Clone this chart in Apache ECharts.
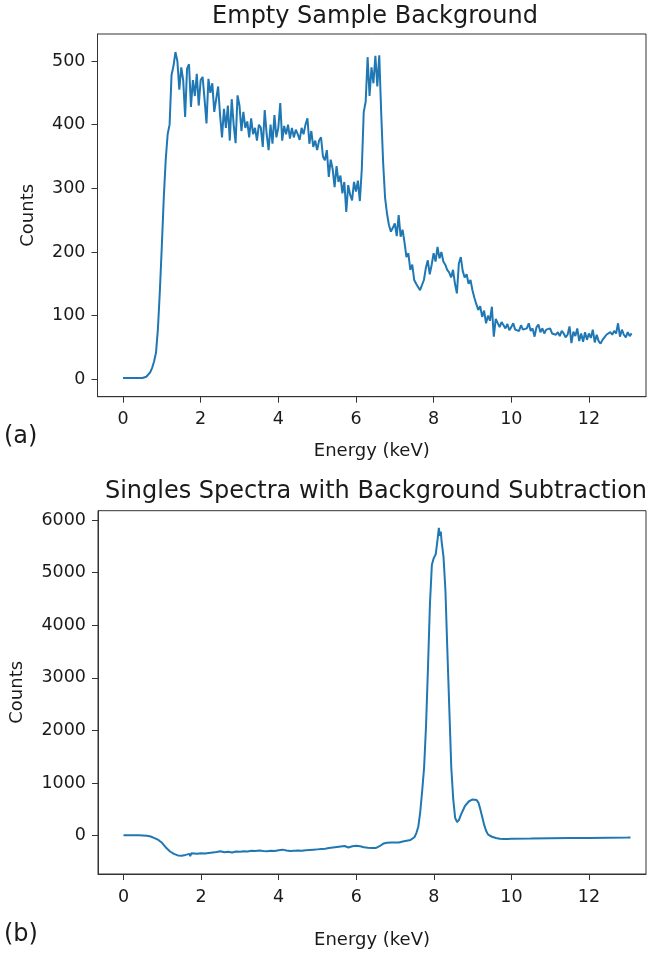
<!DOCTYPE html>
<html>
<head>
<meta charset="utf-8">
<script src="https://cdn.jsdelivr.net/npm/echarts@6/dist/echarts.min.js"></script>
<style>html,body{margin:0;padding:0;background:#fff}#c{width:654px;height:953px}</style>
</head>
<body>
<div id="c"></div>
<script>
// ---- Data ----
const titleA = 'Empty Sample Background';
const titleB = 'Singles Spectra with Background Subtraction';
const xTicks = [0, 2, 4, 6, 8, 10, 12];
const yTicksA = [0, 100, 200, 300, 400, 500];
const yTicksB = [0, 1000, 2000, 3000, 4000, 5000, 6000];

const energyA = [
0,0.05,0.1,0.15,0.2,0.25,0.3,0.35,0.4,0.45,
0.5,0.55,0.6,0.65,0.7,0.75,0.8,0.85,0.9,0.95,
1,1.05,1.1,1.15,1.2,1.25,1.3,1.35,1.4,1.45,
1.5,1.55,1.6,1.65,1.7,1.75,1.8,1.85,1.9,1.95,
2,2.05,2.1,2.15,2.2,2.25,2.3,2.35,2.4,2.45,
2.5,2.55,2.6,2.65,2.7,2.75,2.8,2.85,2.9,2.95,
3,3.05,3.1,3.15,3.2,3.25,3.3,3.35,3.4,3.45,
3.5,3.55,3.6,3.65,3.7,3.75,3.8,3.85,3.9,3.95,
4,4.05,4.1,4.15,4.2,4.25,4.3,4.35,4.4,4.45,
4.5,4.55,4.6,4.65,4.7,4.75,4.8,4.85,4.9,4.95,
5,5.05,5.1,5.15,5.2,5.25,5.3,5.35,5.4,5.45,
5.5,5.55,5.6,5.65,5.7,5.75,5.8,5.85,5.9,5.95,
6,6.05,6.1,6.15,6.2,6.25,6.3,6.35,6.4,6.45,
6.5,6.55,6.6,6.65,6.7,6.75,6.8,6.85,6.9,6.95,
7,7.05,7.1,7.15,7.2,7.25,7.3,7.35,7.4,7.45,
7.5,7.55,7.6,7.65,7.7,7.75,7.8,7.85,7.9,7.95,
8,8.05,8.1,8.15,8.2,8.25,8.3,8.35,8.4,8.45,
8.5,8.55,8.6,8.65,8.7,8.75,8.8,8.85,8.9,8.95,
9,9.05,9.1,9.15,9.2,9.25,9.3,9.35,9.4,9.45,
9.5,9.55,9.6,9.65,9.7,9.75,9.8,9.85,9.9,9.95,
10,10.05,10.1,10.15,10.2,10.25,10.3,10.35,10.4,10.45,
10.5,10.55,10.6,10.65,10.7,10.75,10.8,10.85,10.9,10.95,
11,11.05,11.1,11.15,11.2,11.25,11.3,11.35,11.4,11.45,
11.5,11.55,11.6,11.65,11.7,11.75,11.8,11.85,11.9,11.95,
12,12.05,12.1,12.15,12.2,12.25,12.3,12.35,12.4,12.45,
12.5,12.55,12.6,12.65,12.7,12.75,12.8,12.85,12.9,12.95,
13,13.05,13.1
];
const countsA = [
2,2,2,2,2,2,2,2,2,2,
2,3,4,7,11,18,28,42,80,140,
210,285,345,385,400,478,492,514,500,455,
490,470,412,488,495,428,470,445,480,430,
470,475,440,402,472,450,465,420,440,460,
415,380,425,395,430,375,440,400,371,446,
430,390,420,395,405,380,410,385,395,375,
400,395,365,423,385,360,400,370,415,380,
395,434,375,398,385,400,378,395,380,392,
385,376,395,385,400,410,370,390,365,375,
360,375,380,350,344,360,318,345,330,302,
335,310,320,292,310,263,305,290,281,310,
295,312,280,330,420,436,506,445,490,465,
508,460,509,418,340,285,260,242,232,238,
245,225,258,224,235,215,192,198,172,180,
156,150,145,140,137,156,175,187,165,180,
198,185,208,190,200,185,180,172,168,160,
172,150,135,182,192,170,160,165,150,156,
140,128,118,109,115,98,108,88,100,92,
114,67,95,93,82,90,85,80,87,77,
82,88,78,80,76,85,78,75,80,88,
76,80,67,82,86,74,80,72,78,75,
80,72,75,70,74,68,76,72,66,70,
83,57,75,68,80,60,72,59,74,62,
72,65,78,58,70,60,56,62,66,70,
68,74,70,76,72,88,67,78,70,66,
74,68,72
];

const energyB = [
0,0.1,0.2,0.3,0.4,0.5,0.6,0.7,0.8,0.9,
1,1.1,1.2,1.3,1.4,1.5,1.6,1.7,1.72,1.75,1.8,1.9,
2,2.1,2.2,2.3,2.4,2.5,2.6,2.7,2.8,2.9,
3,3.1,3.2,3.3,3.4,3.5,3.6,3.7,3.8,3.9,
4,4.1,4.15,4.2,4.3,4.4,4.5,4.6,4.7,4.8,4.9,
5,5.1,5.2,5.3,5.4,5.5,5.6,5.7,5.75,5.8,5.9,
6,6.1,6.2,6.3,6.4,6.5,6.6,6.7,6.8,6.9,
7,7.1,7.2,7.3,7.4,7.45,7.5,7.55,7.6,7.65,7.7,7.75,7.8,7.85,7.9,7.95,
8,8.05,8.1,8.13,8.15,8.18,8.2,8.25,8.3,8.35,8.4,8.45,8.5,8.55,8.6,8.65,8.7,8.8,8.9,
9,9.1,9.15,9.2,9.25,9.3,9.35,9.4,9.5,9.6,9.7,9.8,9.9,
10,10.5,11,11.5,12,12.5,13,13.07
];
const countsB = [
8,8,8,8,8,5,0,-15,-45,-80,
-140,-230,-300,-345,-375,-380,-365,-345,-390,-335,-340,-345,
-335,-340,-330,-320,-310,-295,-315,-305,-320,-300,
-305,-295,-300,-285,-290,-280,-290,-295,-285,-290,
-275,-265,-300,-280,-290,-285,-280,-285,-275,-270,-265,
-260,-255,-250,-235,-225,-215,-205,-195,-215,-225,-200,
-190,-200,-220,-230,-235,-235,-200,-150,-135,-130,
-128,-130,-110,-95,-80,-60,-30,50,170,450,850,1300,2100,3200,4400,5150,
5280,5350,5650,5850,5700,5780,5600,5300,4650,3500,2400,1300,700,340,260,300,400,560,650,
690,680,630,500,350,200,90,20,-20,-45,-60,-65,-62,
-60,-55,-48,-45,-42,-38,-35,-32
];

// ---- Chart ----
const FONT = 'DejaVu Sans';
const TXT = '#1a1a1a';
const pairsA = energyA.map((e, i) => [e, countsA[i]]);
const pairsB = energyB.map((e, i) => [e, countsB[i]]);
const plain = v => String(v);

function xAxis(gi, nameGap) {
  return {
    type: 'value', gridIndex: gi, min: -0.657, max: 13.47,
    name: 'Energy (keV)', nameLocation: 'middle', nameGap: nameGap,
    nameTextStyle: {fontFamily: FONT, fontSize: 18, color: TXT},
    axisLine: {show: true, onZero: false, lineStyle: {color: '#333', width: 1}},
    axisTick: {show: true, length: 6, customValues: xTicks, lineStyle: {color: '#333'}},
    axisLabel: {customValues: xTicks, formatter: plain, margin: 14, fontFamily: FONT, fontSize: 17.5, color: TXT},
    splitLine: {show: false}
  };
}
function yAxis(gi, min, max, ticks, nameGap) {
  return {
    type: 'value', gridIndex: gi, min: min, max: max,
    name: 'Counts', nameLocation: 'middle', nameGap: nameGap,
    nameTextStyle: {fontFamily: FONT, fontSize: 18, color: TXT},
    axisLine: {show: true, onZero: false, lineStyle: {color: '#333', width: 1}},
    axisTick: {show: true, length: 6, customValues: ticks, lineStyle: {color: '#333'}},
    axisLabel: {customValues: ticks, formatter: plain, margin: 12, fontFamily: FONT, fontSize: 17.5, color: TXT},
    splitLine: {show: false}
  };
}

const chart = echarts.init(document.getElementById('c'), null, {renderer: 'canvas'});
chart.setOption({
  animation: false,
  backgroundColor: '#fff',
  grid: [
    {left: 97.5, right: 8, top: 34, height: 362.7, show: true, borderColor: '#333', borderWidth: 1, containLabel: false},
    {left: 97.5, right: 8, top: 510.7, height: 363.3, show: true, borderColor: '#333', borderWidth: 1, containLabel: false}
  ],
  xAxis: [xAxis(0, 46), xAxis(1, 57)],
  yAxis: [yAxis(0, -27.3, 542.4, yTicksA, 60), yAxis(1, -728, 6177, yTicksB, 72)],
  series: [
    {type: 'line', xAxisIndex: 0, yAxisIndex: 0, data: pairsA, showSymbol: false, symbol: 'none',
     lineStyle: {color: '#1f77b4', width: 2}, itemStyle: {color: '#1f77b4'}},
    {type: 'line', xAxisIndex: 1, yAxisIndex: 1, data: pairsB, showSymbol: false, symbol: 'none',
     lineStyle: {color: '#1f77b4', width: 2}, itemStyle: {color: '#1f77b4'}}
  ],
  graphic: [
    {type: 'text', x: 375, y: 17, style: {text: titleA, fontFamily: FONT, fontSize: 24, fill: TXT,
      textAlign: 'center', textVerticalAlign: 'middle', align: 'center', verticalAlign: 'middle'}},
    {type: 'text', x: 376, y: 492, style: {text: titleB, fontFamily: FONT, fontSize: 24, fill: TXT,
      textAlign: 'center', textVerticalAlign: 'middle', align: 'center', verticalAlign: 'middle'}},
    {type: 'text', x: 4, y: 437, style: {text: '(a)', fontFamily: FONT, fontSize: 24, fill: TXT,
      textAlign: 'left', textVerticalAlign: 'middle', align: 'left', verticalAlign: 'middle'}},
    {type: 'text', x: 4, y: 935, style: {text: '(b)', fontFamily: FONT, fontSize: 24, fill: TXT,
      textAlign: 'left', textVerticalAlign: 'middle', align: 'left', verticalAlign: 'middle'}}
  ]
});
</script>
</body>
</html>
